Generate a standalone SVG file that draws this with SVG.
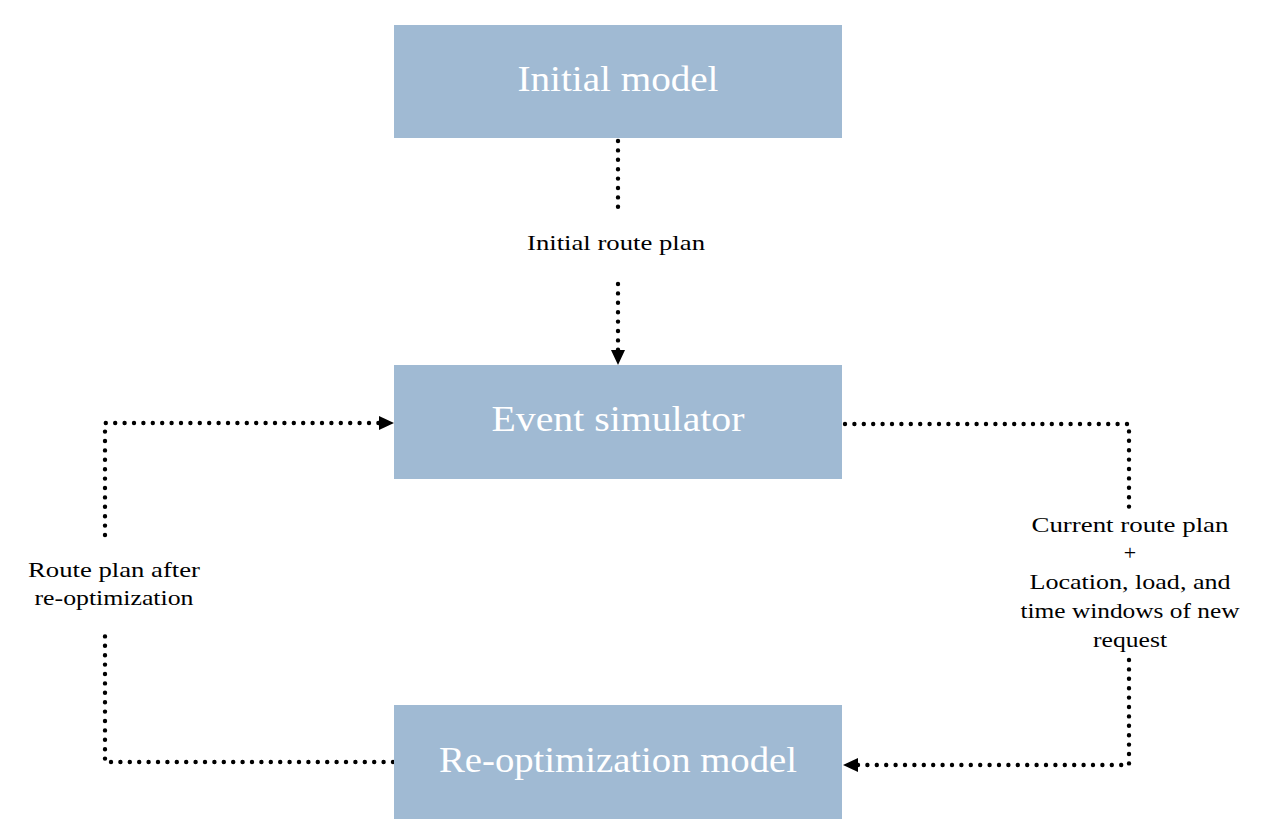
<svg xmlns="http://www.w3.org/2000/svg" width="1273" height="828" viewBox="0 0 1273 828">
<style>
.box{fill:#a0bad3}
.bt{font-family:"Liberation Serif",serif;font-size:35px;fill:#fff;text-anchor:middle}
.lb{font-family:"Liberation Serif",serif;font-size:22px;fill:#000;text-anchor:middle}
.dl{fill:none;stroke:#000;stroke-width:4.4;stroke-linecap:round;stroke-linejoin:round;stroke-dasharray:0 9.4}
</style>
<rect width="1273" height="828" fill="#fff"/>
<g id="connectors">
<path class="dl" d="M618,141 V208"/>
<path class="dl" d="M618,284 V350"/>
<path d="M611,350 L625,350 L618,365 Z" fill="#000"/>
<path class="dl" d="M393,762 H105 V632"/>
<path class="dl" d="M105,535 V423 H380"/>
<path d="M379,416 L379,430 L394,423 Z" fill="#000"/>
<path class="dl" d="M845,424 H1129 V508"/>
<path class="dl" d="M1129,660 V765 H857"/>
<path d="M858,758 L858,772 L843,765 Z" fill="#000"/>
</g>
<g id="initial-model">
<rect class="box" x="394" y="25" width="448" height="113"/>
<text class="bt" x="618" y="91" textLength="201" lengthAdjust="spacingAndGlyphs">Initial model</text>
</g>
<g id="event-simulator">
<rect class="box" x="394" y="365" width="448" height="114"/>
<text class="bt" x="618" y="431" textLength="253" lengthAdjust="spacingAndGlyphs">Event simulator</text>
</g>
<g id="reopt-model">
<rect class="box" x="394" y="705" width="448" height="114"/>
<text class="bt" x="618" y="772" textLength="358" lengthAdjust="spacingAndGlyphs">Re-optimization model</text>
</g>
<g id="label-initial">
<text class="lb" x="616" y="250" textLength="178" lengthAdjust="spacingAndGlyphs">Initial route plan</text>
</g>
<g id="label-left">
<text class="lb" x="114" y="577" textLength="172" lengthAdjust="spacingAndGlyphs">Route plan after</text>
<text class="lb" x="114" y="605" textLength="159" lengthAdjust="spacingAndGlyphs">re-optimization</text>
</g>
<g id="label-right">
<text class="lb" x="1130" y="532" textLength="197" lengthAdjust="spacingAndGlyphs">Current route plan</text>
<text class="lb" x="1130" y="560">+</text>
<text class="lb" x="1130" y="589" textLength="201" lengthAdjust="spacingAndGlyphs">Location, load, and</text>
<text class="lb" x="1130" y="618" textLength="219" lengthAdjust="spacingAndGlyphs">time windows of new</text>
<text class="lb" x="1130" y="647" textLength="74" lengthAdjust="spacingAndGlyphs">request</text>
</g>
</svg>
